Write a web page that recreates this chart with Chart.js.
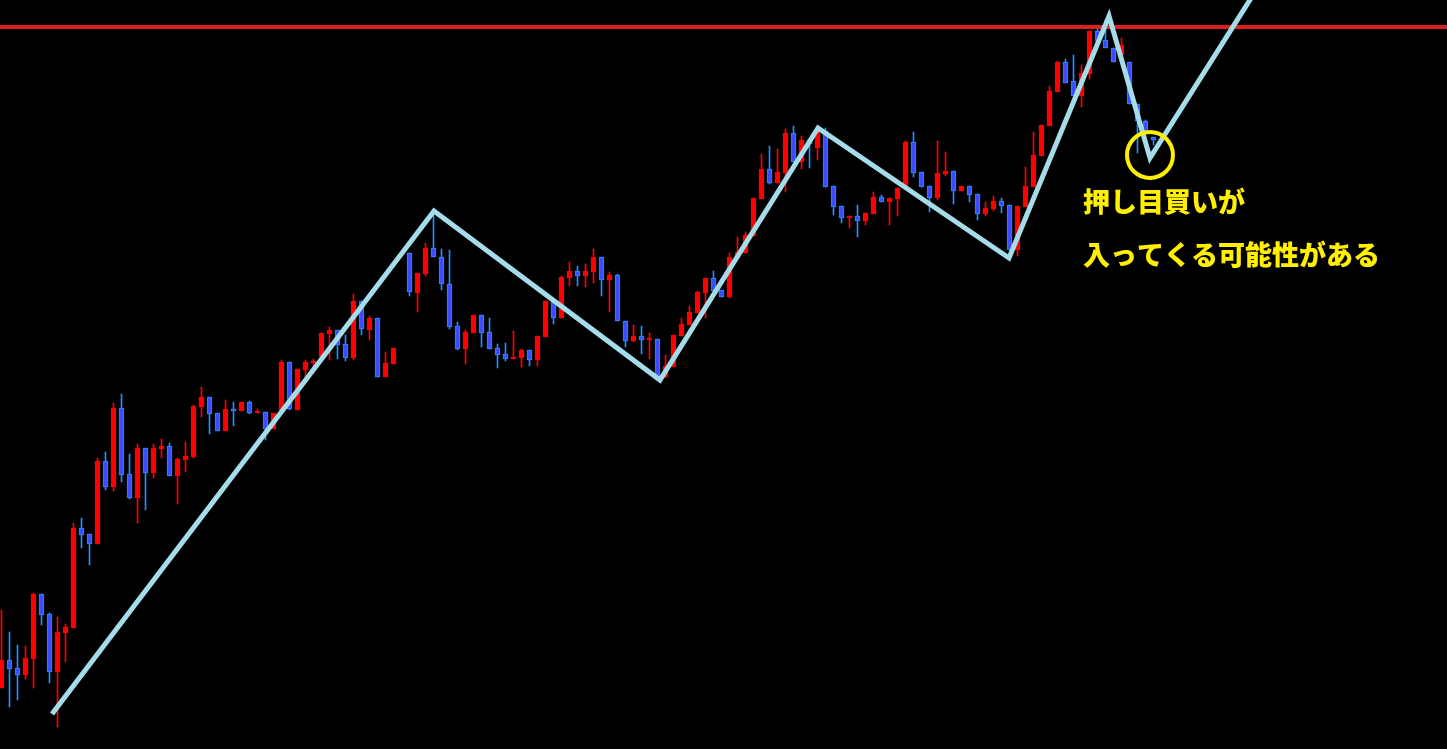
<!DOCTYPE html>
<html>
<head>
<meta charset="utf-8">
<script src="https://cdn.jsdelivr.net/npm/chart.js@4.4.1/dist/chart.umd.min.js"></script>
<style>
  html, body { margin: 0; padding: 0; background: #000; overflow: hidden; }
  canvas { display: block; }
</style>
</head>
<body>
<canvas id="priceChart" width="1447" height="749"></canvas>
<script>
// candle values (price units), index 50 is an empty slot
const opens = [312,340,332,325,341,406,386,328,367,372,472,466,456,539,513,592,526,502,552,527,
  551,554,524,540,543,593,603,587,569,591,589,598,587,588,571,590,638,590,630,637,
  643,666,670,656,642,699,670,682,623,636,null,747,707,726,752,743,716,674,651,667,
  685,668,652,646,641,642,650,640,663,699,682,722,729,724,728,743,720,725,679,659,
  664,660,661,623,633,664,675,687,707,722,710,703,742,747,764,801,831,817,827,867,
  838,860,852,869,814,794,782,784,779,786,803,798,801,814,858,828,814,802,826,829,
  809,814,806,786,791,799,795,750,793,813,844,874,908,938,919,904,926,969,960,952,
  945,938,896,879,863];
const highs = [390,368,355,354,407,406,387,383,376,477,482,466,542,548,597,606,546,556,552,556,
  561,557,542,558,595,613,603,587,600,598,598,599,591,588,587,640,638,631,640,641,
  667,673,670,665,706,699,684,682,648,652,null,747,727,757,787,751,750,678,670,685,
  685,682,656,657,669,651,650,664,699,699,724,738,734,736,751,743,728,726,679,675,
  674,667,661,645,665,682,694,709,722,729,710,747,763,768,802,846,854,851,871,874,
  864,860,870,872,814,794,784,795,787,808,805,802,812,859,868,828,814,859,848,829,
  814,814,806,798,804,802,795,794,833,868,875,914,939,941,945,935,969,972,980,952,
  962,938,896,880,863];
const lows = [312,293,300,321,312,375,317,273,338,372,452,435,456,510,509,518,501,477,490,522,
  542,524,496,528,542,583,566,569,569,574,589,586,587,560,571,590,590,590,623,633,
  643,640,641,639,640,665,660,623,623,636,null,704,688,724,743,710,671,650,636,667,
  653,651,632,639,641,633,634,634,663,676,682,714,714,713,717,704,688,679,653,658,
  646,641,620,622,633,664,675,687,682,709,703,702,742,747,764,801,816,817,808,838,
  831,832,840,813,785,777,772,763,775,786,798,775,784,814,823,813,788,800,824,796,
  809,798,780,784,789,787,750,744,793,813,844,874,908,917,904,893,921,959,952,938,
  942,896,847,867,855];
const closes = [340,331,325,342,406,385,328,368,373,472,465,456,539,513,592,525,502,552,527,552,
  554,524,541,544,594,603,586,569,591,589,598,587,588,571,587,638,591,631,638,638,
  667,670,655,642,699,671,682,623,637,652,null,708,727,752,743,716,673,651,668,685,
  667,651,645,641,643,650,640,664,699,682,723,729,724,729,743,720,725,679,659,664,
  660,661,623,634,665,676,688,708,722,709,703,743,748,765,802,831,817,828,867,838,
  860,856,870,813,793,782,784,779,787,803,798,802,812,858,827,813,802,827,829,809,
  814,805,786,792,799,794,750,794,814,845,875,909,938,917,904,927,969,959,952,938,
  955,896,879,867,860];

// zigzag swing line (candle index, price)
const swingIdx = [6.31, 54.06, 82.31, 102.06, 125.94, 138.44, 143.56, 157.31];
const swingPrice = [286, 789, 620, 872, 742, 984, 842, 1016];

// resistance level
const resistance = 973;

// circled spot
const markIdx = 143.56;
const markPrice = 845;

const noteLines = ["押し目買いが", "入ってくる可能性がある"];

const RED = "#ff0000";
const BLUE_FILL = "#3b4cff";
const BLUE_EDGE = "#2a8cff";

const bodyData = [], wickData = [], bodyFill = [], bodyEdge = [], wickColor = [];
for (let i = 0; i < opens.length; i++) {
  if (opens[i] === null) continue;
  const up = closes[i] >= opens[i];
  bodyData.push({ x: i, y: [opens[i], closes[i]] });
  wickData.push({ x: i, y: [lows[i], highs[i]] });
  bodyFill.push(up ? RED : BLUE_FILL);
  bodyEdge.push(up ? RED : BLUE_EDGE);
  wickColor.push(up ? RED : BLUE_EDGE);
}

const swingData = swingIdx.map((x, i) => ({ x: x, y: swingPrice[i] }));

const notePlugin = {
  id: "note",
  afterDraw(chart) {
    const ctx = chart.ctx;
    ctx.save();
    ctx.fillStyle = "#fff000";
    ctx.font = "900 27px 'Noto Sans CJK JP'";
    ctx.textBaseline = "middle";
    ctx.textAlign = "left";
    ctx.fillText(noteLines[0], 1083, 202);
    ctx.fillText(noteLines[1], 1083, 255);
    ctx.restore();
  }
};

const ctx = document.getElementById("priceChart").getContext("2d");

new Chart(ctx, {
  type: "bar",
  data: {
    datasets: [
      {
        type: "scatter",
        data: [{ x: markIdx, y: markPrice }],
        pointRadius: 23,
        pointBorderWidth: 4,
        pointBorderColor: "#fff000",
        pointBackgroundColor: "rgba(0,0,0,0)",
        order: 1,
      },
      {
        type: "line",
        data: swingData,
        borderColor: "#a4dcea",
        borderWidth: 5,
        pointRadius: 0,
        tension: 0,
        order: 2,
      },
      {
        type: "line",
        data: [{ x: -1, y: resistance }, { x: 182, y: resistance }],
        borderColor: "#dc1f1f",
        borderWidth: 4,
        pointRadius: 0,
        order: 3,
      },
      {
        data: bodyData,
        backgroundColor: bodyFill,
        borderColor: bodyEdge,
        borderWidth: 1,
        borderSkipped: false,
        barThickness: 5,
        minBarLength: 2,
        grouped: false,
        order: 4,
      },
      {
        data: wickData,
        backgroundColor: wickColor,
        borderWidth: 0,
        barThickness: 1,
        grouped: false,
        order: 5,
      },
    ],
  },
  options: {
    responsive: false,
    devicePixelRatio: 1,
    animation: false,
    layout: { padding: 0, autoPadding: false },
    plugins: {
      legend: { display: false },
      tooltip: { enabled: false },
    },
    scales: {
      x: {
        type: "linear",
        min: -0.1875,
        max: 180.6875,
        offset: false,
        grid: { offset: false },
        display: false,
      },
      y: {
        min: 251,
        max: 1000,
        display: false,
      },
    },
  },
  plugins: [notePlugin],
});
</script>
</body>
</html>
